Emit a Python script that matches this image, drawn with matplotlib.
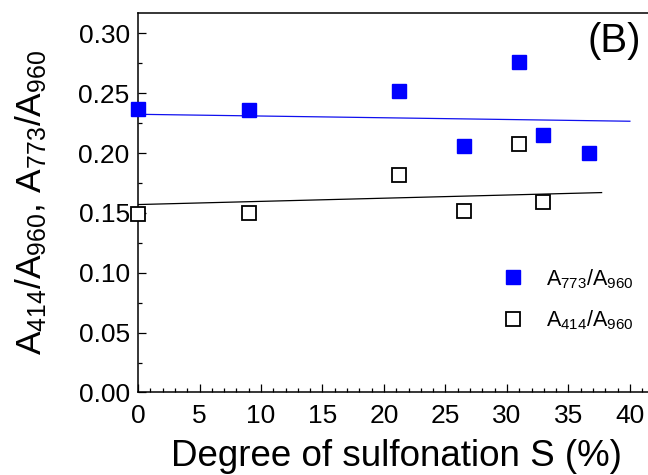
import numpy as np
import matplotlib
matplotlib.use("Agg")
import matplotlib.pyplot as plt
from matplotlib.ticker import MultipleLocator, FormatStrFormatter

plt.rcParams['font.family'] = ['Liberation Sans', 'DejaVu Sans']
plt.rcParams['mathtext.fontset'] = 'custom'
plt.rcParams['mathtext.rm'] = 'Liberation Sans'
plt.rcParams['mathtext.it'] = 'Liberation Sans:italic'

# degree of sulfonation S (%)
s_vals = [0, 9.05, 21.2, 26.5, 31.0, 32.9, 36.7]
# A773/A960 (filled blue squares)
a773 = [0.237, 0.236, 0.252, 0.206, 0.276, 0.2155, 0.1997]
# A414/A960 (open black squares), no value at 36.7
s_414 = [0, 9.05, 21.2, 26.5, 31.0, 32.9]
a414 = [0.149, 0.1496, 0.1816, 0.1518, 0.2074, 0.1593]

# linear trend lines (end points)
fit773_x = [0, 40.0]
fit773_y = [0.2324, 0.2266]
fit414_x = [0, 37.7]
fit414_y = [0.157, 0.167]

fig = plt.figure(figsize=(6.48, 4.75), dpi=100)
ax = fig.add_axes([0.213, 0.1737, 0.797, 0.7989])

ax.plot(fit773_x, fit773_y, color='#1010ee', lw=0.9, zorder=2)
ax.plot(fit414_x, fit414_y, color='black', lw=0.9, zorder=2)

ax.plot(s_vals, a773, 's', color='#0000ff', ms=10, mec='#0000ff', ls='none',
        label=r'$\mathregular{A_{773}/A_{960}}$', zorder=3, clip_on=False)
ax.plot(s_414, a414, 's', mfc='white', mec='black', mew=1.3, ms=9.5, ls='none',
        label=r'$\mathregular{A_{414}/A_{960}}$', zorder=3, clip_on=False)

ax.set_xlim(0, 42)
ax.set_ylim(0, 0.317)
ax.xaxis.set_major_locator(MultipleLocator(5))
ax.xaxis.set_minor_locator(MultipleLocator(1))
ax.yaxis.set_major_locator(MultipleLocator(0.05))
ax.yaxis.set_minor_locator(MultipleLocator(0.025))
ax.yaxis.set_major_formatter(FormatStrFormatter('%.2f'))

ax.tick_params(which='both', direction='in', top=False, right=False, width=0.9)
ax.tick_params(which='major', length=5.5, labelsize=19)
ax.tick_params(axis='x', which='major', pad=8)
ax.tick_params(axis='y', which='major', pad=6)
ax.tick_params(which='minor', length=3)
for sp in ax.spines.values():
    sp.set_linewidth(1.1)

ax.set_xlabel('Degree of sulfonation S (%)', fontsize=26.5, labelpad=8)
ax.set_ylabel(r'$\mathregular{A_{414}/A_{960},\,A_{773}/A_{960}}$', fontsize=25.5, labelpad=21)

ax.text(614 / 648, 1 - 41 / 475, '(B)', fontsize=29, ha='center', va='center',
        transform=fig.transFigure)

leg = ax.legend(loc='upper left', bbox_to_anchor=(502 / 648, 1 - 267 / 475),
                bbox_transform=fig.transFigure, frameon=False, fontsize=15.5,
                handlelength=1, handletextpad=1.05, borderpad=0, borderaxespad=0,
                labelspacing=0.85)

fig.savefig('out.png', dpi=100)
